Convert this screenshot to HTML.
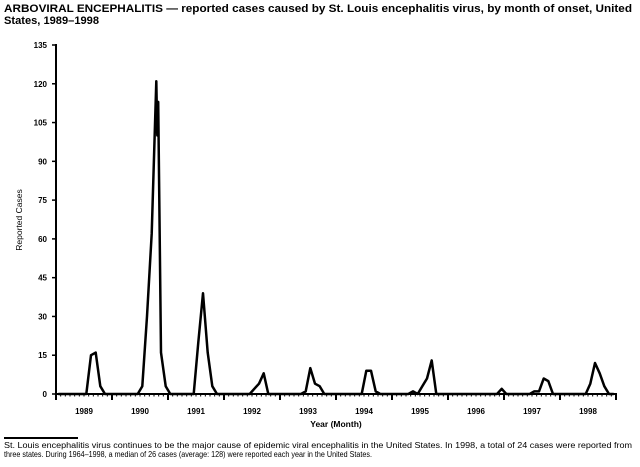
<!DOCTYPE html>
<html><head><meta charset="utf-8"><style>
html,body{margin:0;padding:0;background:#fff;}
svg{display:block;}
text{font-family:"Liberation Sans",Arial,sans-serif;fill:#000;}
</style></head><body>
<svg id="s" width="640" height="467" viewBox="0 0 640 467" xmlns="http://www.w3.org/2000/svg">
<text x="4" y="12" font-size="11" font-weight="bold" textLength="628" lengthAdjust="spacingAndGlyphs">ARBOVIRAL ENCEPHALITIS — reported cases caused by St. Louis encephalitis virus, by month of onset, United</text>
<text x="4" y="24" font-size="11" font-weight="bold" textLength="95" lengthAdjust="spacingAndGlyphs">States, 1989–1998</text>
<text transform="translate(22,220) rotate(-90)" font-size="8.5" text-anchor="middle">Reported Cases</text>
<text x="336" y="427" font-size="8.5" font-weight="bold" text-anchor="middle">Year (Month)</text>
<line x1="4" y1="438" x2="78" y2="438" stroke="#000" stroke-width="2"/>
<text x="4" y="448" font-size="8" textLength="628" lengthAdjust="spacingAndGlyphs">St. Louis encephalitis virus continues to be the major cause of epidemic viral encephalitis in the United States. In 1998, a total of 24 cases were reported from</text>
<text x="4" y="457" font-size="8" textLength="368" lengthAdjust="spacingAndGlyphs">three states. During 1964–1998, a median of 26 cases (average: 128) were reported each year in the United States.</text>
<g id="g"></g>
</svg>
<script>
(function(){
var g=document.getElementById('g'),h='';
var x0=56,y0=394,yt=45,ppu=(y0-yt)/135,mw=560/120;
h+='<line x1="'+x0+'" y1="'+(yt-1)+'" x2="'+x0+'" y2="'+(y0+1)+'" stroke="#000" stroke-width="2"/>';
h+='<line x1="'+(x0-1)+'" y1="'+y0+'" x2="617" y2="'+y0+'" stroke="#000" stroke-width="2"/>';
for(var v=0;v<=135;v+=15){var y=y0-v*ppu;h+='<line x1="52" y1="'+y+'" x2="56" y2="'+y+'" stroke="#000" stroke-width="1.5"/>';
h+='<text x="47" y="'+(y+3)+'" font-size="8" font-weight="bold" text-anchor="end">'+v+'</text>';}
for(var m=0;m<=120;m++){var x=x0+m*mw;var L=(m%12==0)?6:2.5;
h+='<line x1="'+x+'" y1="'+y0+'" x2="'+x+'" y2="'+(y0+L)+'" stroke="#000" stroke-width="'+(m%12==0?2:1)+'"/>';}
for(var yr=0;yr<10;yr++){h+='<text x="'+(x0+yr*56+28)+'" y="414" font-size="8" font-weight="bold" text-anchor="middle">'+(1989+yr)+'</text>';}
var d={7:15,8:16,9:3,18:3,19:30,20:62,21:121,21.2:100,21.4:113,22:16,23:3,30:20,31:39,32:16,33:3,42:2,43:4,44:8,53:1,54:10,55:4,56:3,66:9,67:9,68:1,76:1,78:3,79:6,80:13,95:2,102:1,103:1,104:6,105:5,114:4,115:12,116:8,117:3};
var keys=[];for(var m=0;m<120;m++)keys.push(m);keys.push(21.2);keys.push(21.4);keys.sort(function(a,b){return a-b});
var p='';keys.forEach(function(k,i){var v=d[k]||0;p+=(i?'L':'M')+(x0+(k+0.5)*mw).toFixed(1)+','+(y0-v*ppu).toFixed(1);});
h+='<path d="'+p+'" fill="none" stroke="#000" stroke-width="2.5" stroke-linejoin="round"/>';
g.innerHTML=h;
})();
</script>
</body></html>
